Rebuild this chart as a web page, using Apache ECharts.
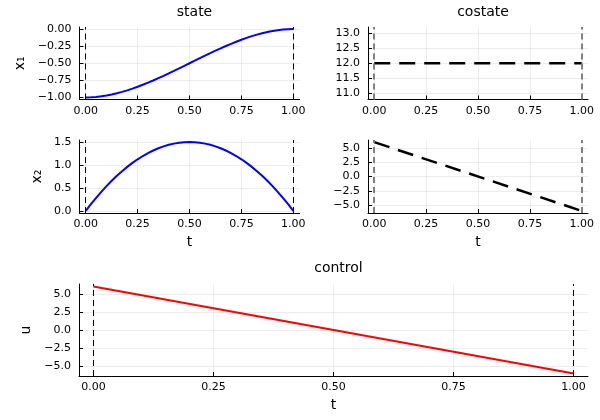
<!DOCTYPE html>
<html>
<head>
<meta charset="utf-8">
<script src="https://cdn.jsdelivr.net/npm/echarts@6/dist/echarts.min.js"></script>
<style>html,body{margin:0;padding:0;background:#fff}#c{width:600px;height:420px}</style>
</head>
<body>
<div id="c"></div>
<script>
// ---- data ----
var tGrid = [0,0.025,0.05,0.075,0.1,0.125,0.15,0.175,0.2,0.225,0.25,0.275,0.3,0.325,0.35,0.375,0.4,0.425,0.45,0.475,0.5,
             0.525,0.55,0.575,0.6,0.625,0.65,0.675,0.7,0.725,0.75,0.775,0.8,0.825,0.85,0.875,0.9,0.925,0.95,0.975,1];
var x1Vals = [-1,-0.998,-0.993,-0.984,-0.972,-0.957,-0.939,-0.919,-0.896,-0.871,-0.844,-0.815,-0.784,-0.752,-0.718,-0.684,-0.648,-0.612,-0.575,-0.537,-0.5,
              -0.463,-0.425,-0.388,-0.352,-0.316,-0.282,-0.248,-0.216,-0.185,-0.156,-0.129,-0.104,-0.081,-0.061,-0.043,-0.028,-0.016,-0.007,-0.002,0];
var x2Vals = [0,0.146,0.285,0.416,0.54,0.656,0.765,0.866,0.96,1.046,1.125,1.196,1.26,1.316,1.365,1.406,1.44,1.466,1.485,1.496,1.5,
              1.496,1.485,1.466,1.44,1.406,1.365,1.316,1.26,1.196,1.125,1.046,0.96,0.866,0.765,0.656,0.54,0.416,0.285,0.146,0];
var tEnds = [0,1];
var p1Vals = [12,12];
var p2Vals = [6,-6];
var uVals = [6,-6];
var boundaryTimes = [0,1];
// ---- tick labels ----
var tTicks = [0,0.25,0.5,0.75,1];
var x1Ticks = [-1,-0.75,-0.5,-0.25,0];
var p1Ticks = [11,11.5,12,12.5,13];
var x2Ticks = [0,0.5,1,1.5];
var p2Ticks = [-5,-2.5,0,2.5,5];
var uTicks = [-5,-2.5,0,2.5,5];

function pairs(xs, ys){ return xs.map(function(x,i){ return [x, ys[i]]; }); }
function fmt(d){ return function(v){ return v.toFixed(d).replace('-', '\u2212'); }; }
var FONT = 'DejaVu Sans';

function xAx(idx, ticks, name){
  return {
    type:'value', gridIndex: idx, min:-0.03, max:1.03,
    name: name || '', nameLocation:'middle', nameGap: 22,
    nameTextStyle:{fontFamily:FONT, fontSize:14, color:'#000'},
    axisLine:{show:true, onZero:false, lineStyle:{color:'#000', width:1}},
    axisTick:{show:true, inside:true, length:4, customValues:ticks, lineStyle:{color:'#000'}},
    axisLabel:{show:true, customValues:ticks, formatter:fmt(2), margin:6, fontFamily:FONT, fontSize:11, color:'#000'},
    splitLine:{show:true, lineStyle:{color:'rgba(0,0,0,0.07)', width:1}}
  };
}
function yAx(idx, mn, mx, ticks, d, name, gap){
  return {
    type:'value', gridIndex: idx, min:mn, max:mx,
    name: name || '', nameLocation:'middle', nameGap: gap || 30,
    nameTextStyle:{fontFamily:FONT, fontSize:14, color:'#000'},
    axisLine:{show:true, onZero:false, lineStyle:{color:'#000', width:1}},
    axisTick:{show:true, inside:true, length:4, customValues:ticks, lineStyle:{color:'#000'}},
    axisLabel:{show:true, customValues:ticks, formatter:fmt(d), margin:8, fontFamily:FONT, fontSize:11, color:'#000'},
    splitLine:{show:true, lineStyle:{color:'rgba(0,0,0,0.07)', width:1}}
  };
}
function vlines(color, width){
  return {
    silent:true, symbol:'none', label:{show:false},
    lineStyle:{color:color, width:width, type:[6,4]},
    data: boundaryTimes.map(function(t){ return {xAxis:t}; })
  };
}

var option = {
  animation:false,
  backgroundColor:'#fff',
  title:[
    {text:'state', left:189.5, top:0, textAlign:'center', textStyle:{fontFamily:FONT, fontSize:14, fontWeight:'normal', color:'#000'}},
    {text:'costate', left:478, top:0, textAlign:'center', textStyle:{fontFamily:FONT, fontSize:14, fontWeight:'normal', color:'#000'}},
    {text:'control', left:333.5, top:256, textAlign:'center', textStyle:{fontFamily:FONT, fontSize:14, fontWeight:'normal', color:'#000'}}
  ],
  grid:[
    {left:79.5, top:27, width:220, height:72.5},
    {left:368, top:27, width:220, height:72.5},
    {left:79.5, top:140, width:220, height:73},
    {left:368, top:140, width:220, height:73},
    {left:79, top:284, width:509, height:92}
  ],
  xAxis:[
    xAx(0, tTicks), xAx(1, tTicks), xAx(2, tTicks, 't'), xAx(3, tTicks, 't'), xAx(4, tTicks, 't')
  ],
  yAxis:[
    yAx(0, -1.03, 0.03, x1Ticks, 2, 'x\u2081', 52),
    yAx(1, 10.78, 13.22, p1Ticks, 1, '', 30),
    yAx(2, -0.045, 1.545, x2Ticks, 1, 'x\u2082', 35),
    yAx(3, -6.36, 6.36, p2Ticks, 1, '', 30),
    yAx(4, -6.36, 6.36, uTicks, 1, 'u', 45)
  ],
  series:[
    {type:'line', xAxisIndex:0, yAxisIndex:0, data:pairs(tGrid, x1Vals), showSymbol:false, lineStyle:{color:'#0000ff', width:2}, markLine:vlines('#000', 1)},
    {type:'line', xAxisIndex:1, yAxisIndex:1, data:pairs(tEnds, p1Vals), showSymbol:false, lineStyle:{color:'#000', width:2.5, type:[16,9]}, markLine:vlines('#808080', 2)},
    {type:'line', xAxisIndex:2, yAxisIndex:2, data:pairs(tGrid, x2Vals), showSymbol:false, lineStyle:{color:'#0000ff', width:2}, markLine:vlines('#000', 1)},
    {type:'line', xAxisIndex:3, yAxisIndex:3, data:pairs(tEnds, p2Vals), showSymbol:false, lineStyle:{color:'#000', width:2.5, type:[16,9]}, markLine:vlines('#808080', 2)},
    {type:'line', xAxisIndex:4, yAxisIndex:4, data:pairs(tEnds, uVals), showSymbol:false, lineStyle:{color:'#ff0000', width:2}, markLine:vlines('#000', 1)}
  ]
};
var chart = echarts.init(document.getElementById('c'));
chart.setOption(option);
</script>
</body>
</html>
